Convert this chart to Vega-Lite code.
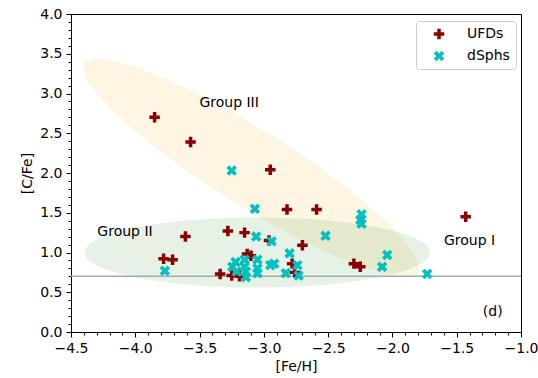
{
  "$schema": "https://vega.github.io/schema/vega-lite/v6.json",
  "width": 450,
  "height": 318,
  "autosize": {"type": "none"},
  "padding": {"left": 71, "top": 14, "right": 17, "bottom": 46},
  "background": "white",
  "config": {
    "view": {"stroke": "black", "strokeWidth": 1},
    "font": "DejaVu Sans",
    "axis": {
      "grid": false,
      "domainColor": "black",
      "domainWidth": 1,
      "tickColor": "black",
      "tickWidth": 1,
      "labelFont": "DejaVu Sans",
      "labelFontSize": 14,
      "labelColor": "black",
      "labelOverlap": false,
      "labelFlush": false,
      "titleFont": "DejaVu Sans",
      "titleFontSize": 14,
      "titleFontWeight": "normal",
      "titleColor": "black"
    }
  },
  "datasets": {
    "points": [
      {"Fe": -3.85, "C": 2.70, "type": "UFDs"},
      {"Fe": -3.57, "C": 2.39, "type": "UFDs"},
      {"Fe": -2.95, "C": 2.04, "type": "UFDs"},
      {"Fe": -2.82, "C": 1.54, "type": "UFDs"},
      {"Fe": -2.59, "C": 1.54, "type": "UFDs"},
      {"Fe": -1.43, "C": 1.45, "type": "UFDs"},
      {"Fe": -3.28, "C": 1.27, "type": "UFDs"},
      {"Fe": -3.15, "C": 1.25, "type": "UFDs"},
      {"Fe": -3.61, "C": 1.20, "type": "UFDs"},
      {"Fe": -2.96, "C": 1.15, "type": "UFDs"},
      {"Fe": -2.70, "C": 1.09, "type": "UFDs"},
      {"Fe": -3.13, "C": 0.98, "type": "UFDs"},
      {"Fe": -3.10, "C": 0.96, "type": "UFDs"},
      {"Fe": -3.78, "C": 0.92, "type": "UFDs"},
      {"Fe": -3.71, "C": 0.91, "type": "UFDs"},
      {"Fe": -2.30, "C": 0.86, "type": "UFDs"},
      {"Fe": -2.25, "C": 0.82, "type": "UFDs"},
      {"Fe": -2.78, "C": 0.86, "type": "UFDs"},
      {"Fe": -2.76, "C": 0.75, "type": "UFDs"},
      {"Fe": -3.34, "C": 0.73, "type": "UFDs"},
      {"Fe": -3.25, "C": 0.71, "type": "UFDs"},
      {"Fe": -3.19, "C": 0.70, "type": "UFDs"},
      {"Fe": -3.25, "C": 2.03, "type": "dSphs"},
      {"Fe": -3.07, "C": 1.55, "type": "dSphs"},
      {"Fe": -2.24, "C": 1.48, "type": "dSphs"},
      {"Fe": -2.25, "C": 1.41, "type": "dSphs"},
      {"Fe": -2.24, "C": 1.36, "type": "dSphs"},
      {"Fe": -2.52, "C": 1.21, "type": "dSphs"},
      {"Fe": -3.06, "C": 1.20, "type": "dSphs"},
      {"Fe": -2.94, "C": 1.14, "type": "dSphs"},
      {"Fe": -2.80, "C": 0.99, "type": "dSphs"},
      {"Fe": -2.04, "C": 0.97, "type": "dSphs"},
      {"Fe": -2.08, "C": 0.82, "type": "dSphs"},
      {"Fe": -1.73, "C": 0.73, "type": "dSphs"},
      {"Fe": -3.77, "C": 0.77, "type": "dSphs"},
      {"Fe": -2.74, "C": 0.84, "type": "dSphs"},
      {"Fe": -2.73, "C": 0.71, "type": "dSphs"},
      {"Fe": -2.83, "C": 0.74, "type": "dSphs"},
      {"Fe": -3.22, "C": 0.88, "type": "dSphs"},
      {"Fe": -3.245, "C": 0.82, "type": "dSphs"},
      {"Fe": -3.15, "C": 0.91, "type": "dSphs"},
      {"Fe": -3.15, "C": 0.82, "type": "dSphs"},
      {"Fe": -3.14, "C": 0.76, "type": "dSphs"},
      {"Fe": -3.21, "C": 0.76, "type": "dSphs"},
      {"Fe": -3.05, "C": 0.91, "type": "dSphs"},
      {"Fe": -3.05, "C": 0.80, "type": "dSphs"},
      {"Fe": -3.05, "C": 0.74, "type": "dSphs"},
      {"Fe": -2.95, "C": 0.84, "type": "dSphs"},
      {"Fe": -2.92, "C": 0.86, "type": "dSphs"},
      {"Fe": -3.14, "C": 0.69, "type": "dSphs"}
    ],
    "ellipses": [
      {"group": "Group III", "Fe": -3.10, "C": 2.07},
      {"group": "Group II", "Fe": -3.05, "C": 1.0}
    ],
    "labels": [
      {"label": "Group III", "Fe": -3.27, "C": 2.88},
      {"label": "Group II", "Fe": -4.08, "C": 1.26},
      {"label": "Group I", "Fe": -1.40, "C": 1.15},
      {"label": "(d)", "Fe": -1.22, "C": 0.25}
    ],
    "hline": [
      {"Fe": -4.5, "Fe2": -1.0, "C": 0.7}
    ]
  },
  "encoding": {
    "x": {
      "field": "Fe",
      "type": "quantitative",
      "scale": {"domain": [-4.5, -1.0], "nice": false, "zero": false},
      "axis": {
        "title": "[Fe/H]",
        "values": [-4.5,-4.4,-4.3,-4.2,-4.1,-4.0,-3.9,-3.8,-3.7,-3.6,-3.5,-3.4,-3.3,-3.2,-3.1,-3.0,-2.9,-2.8,-2.7,-2.6,-2.5,-2.4,-2.3,-2.2,-2.1,-2.0,-1.9,-1.8,-1.7,-1.6,-1.5,-1.4,-1.3,-1.2,-1.1,-1.0],
        "labelExpr": "round(datum.value*10)%5===0 ? format(datum.value,'.1f') : ''",
        "tickSize": {"condition": {"test": "round(datum.value*10)%5===0", "value": 5}, "value": 3},
        "labelPadding": 4,
        "titlePadding": 4
      }
    },
    "y": {
      "field": "C",
      "type": "quantitative",
      "scale": {"domain": [0, 4.0], "nice": false, "zero": false},
      "axis": {
        "title": "[C/Fe]",
        "values": [0,0.1,0.2,0.3,0.4,0.5,0.6,0.7,0.8,0.9,1.0,1.1,1.2,1.3,1.4,1.5,1.6,1.7,1.8,1.9,2.0,2.1,2.2,2.3,2.4,2.5,2.6,2.7,2.8,2.9,3.0,3.1,3.2,3.3,3.4,3.5,3.6,3.7,3.8,3.9,4.0],
        "labelExpr": "round(datum.value*10)%5===0 ? format(datum.value,'.1f') : ''",
        "tickSize": {"condition": {"test": "round(datum.value*10)%5===0", "value": 5}, "value": 3},
        "labelPadding": 4,
        "titlePadding": 5
      }
    }
  },
  "layer": [
    {
      "data": {"name": "ellipses"},
      "transform": [{"filter": "datum.group === 'Group III'"}],
      "mark": {
        "type": "point",
        "filled": true,
        "shape": "M0.98,0C0.98,0.1049,0.5413,0.19,0,0.19C-0.5413,0.19,-0.98,0.1049,-0.98,0C-0.98,-0.1049,-0.5413,-0.19,0,-0.19C0.5413,-0.19,0.98,-0.1049,0.98,0Z",
        "size": 160000,
        "angle": 32,
        "color": "#ffa500",
        "opacity": 0.11,
        "strokeWidth": 0
      }
    },
    {
      "data": {"name": "ellipses"},
      "transform": [{"filter": "datum.group === 'Group II'"}],
      "mark": {
        "type": "point",
        "filled": true,
        "shape": "M0.864,0C0.864,0.0967,0.4772,0.175,0,0.175C-0.4772,0.175,-0.864,0.0967,-0.864,0C-0.864,-0.0967,-0.4772,-0.175,0,-0.175C0.4772,-0.175,0.864,-0.0967,0.864,0Z",
        "size": 160000,
        "color": "#008000",
        "opacity": 0.1,
        "strokeWidth": 0
      }
    },
    {
      "data": {"name": "hline"},
      "mark": {"type": "rule", "color": "#a8a8a8", "strokeWidth": 1.5},
      "encoding": {"x2": {"field": "Fe2"}}
    },
    {
      "data": {"name": "points"},
      "mark": {"type": "point", "filled": true, "size": 110, "opacity": 1, "strokeWidth": 0},
      "encoding": {
        "color": {
          "field": "type",
          "type": "nominal",
          "scale": {"domain": ["UFDs", "dSphs"], "range": ["#8b0000", "#00bfbf"]},
          "legend": {
            "title": null,
            "orient": "none",
            "legendX": 345,
            "legendY": 7,
            "labelFont": "DejaVu Sans",
            "labelFontSize": 14,
            "labelColor": "black",
            "symbolSize": 110,
            "symbolStrokeWidth": 0,
            "strokeColor": "#cccccc",
            "fillColor": "white",
            "cornerRadius": 3,
            "padding": 6,
            "rowPadding": 8,
            "symbolOffset": 10,
            "labelOffset": 21
          }
        },
        "shape": {
          "field": "type",
          "type": "nominal",
          "scale": {
            "domain": ["UFDs", "dSphs"],
            "range": [
              "M-0.333,-1H0.333V-0.333H1V0.333H0.333V1H-0.333V0.333H-1V-0.333H-0.333Z",
              "M0.5,-1L1,-0.5L0.5,0L1,0.5L0.5,1L0,0.5L-0.5,1L-1,0.5L-0.5,0L-1,-0.5L-0.5,-1L0,-0.5Z"
            ]
          },
          "legend": {
            "title": null,
            "orient": "none",
            "legendX": 345,
            "legendY": 7,
            "labelFont": "DejaVu Sans",
            "labelFontSize": 14,
            "labelColor": "black",
            "symbolSize": 110,
            "symbolStrokeWidth": 0,
            "strokeColor": "#cccccc",
            "fillColor": "white",
            "cornerRadius": 3,
            "padding": 6,
            "rowPadding": 8,
            "symbolOffset": 10,
            "labelOffset": 21
          }
        }
      }
    },
    {
      "data": {"name": "labels"},
      "mark": {"type": "text", "font": "DejaVu Sans", "fontSize": 14, "color": "black", "align": "center", "baseline": "middle"},
      "encoding": {"text": {"field": "label"}}
    }
  ]
}
